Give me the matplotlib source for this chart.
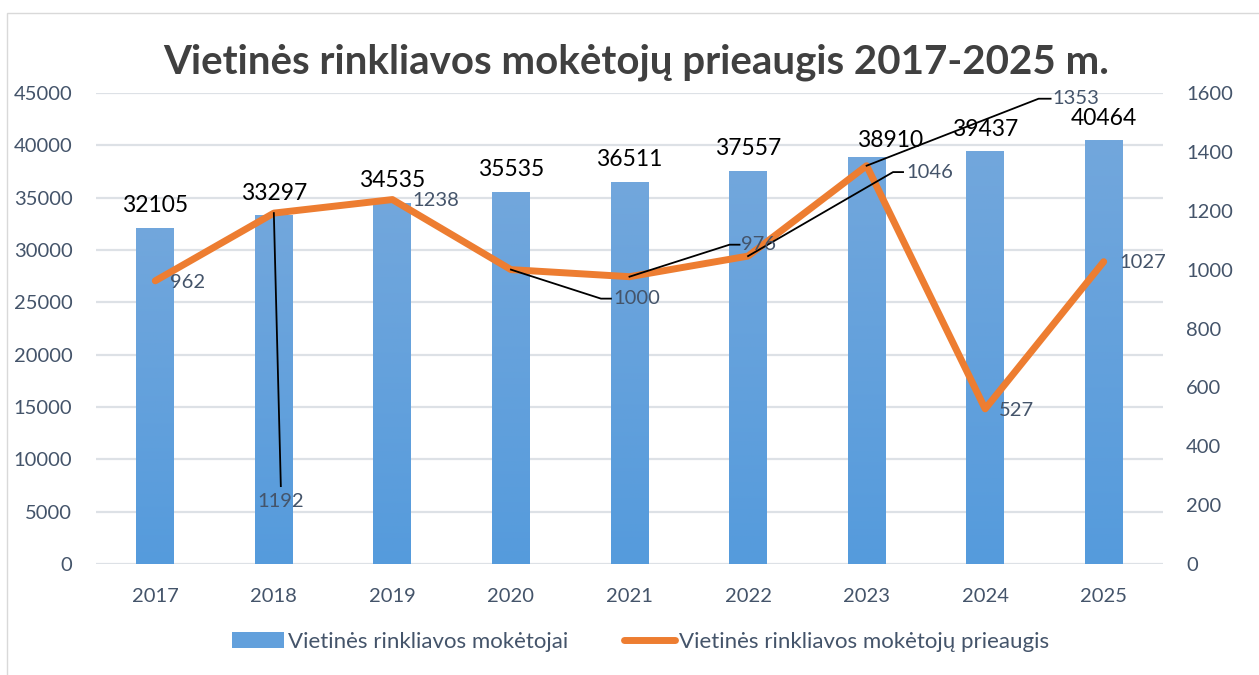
import numpy as np
import matplotlib.pyplot as plt
import matplotlib.transforms as mtransforms
from matplotlib.patches import Rectangle, Patch
from matplotlib.lines import Line2D
from matplotlib.colors import LinearSegmentedColormap

plt.rcParams['font.family'] = ['Lato', 'DejaVu Sans']

# data
years = ['2017', '2018', '2019', '2020', '2021', '2022', '2023', '2024', '2025']
payers = [32105, 33297, 34535, 35535, 36511, 37557, 38910, 39437, 40464]
growth = [962, 1192, 1238, 1000, 976, 1046, 1353, 527, 1027]

title = 'Vietinės rinkliavos mokėtojų prieaugis 2017-2025 m.'
bar_name = 'Vietinės rinkliavos mokėtojai'
line_name = 'Vietinės rinkliavos mokėtojų prieaugis'

tick_col = '#44546a'
grid_col = '#dde1e6'
orange = '#ed7d31'

fig = plt.figure(figsize=(12.59, 6.75), dpi=100)
fig.patches.append(Rectangle((7 / 1259, -0.1), 1.2, 1 - 13 / 675 + 0.1,
                             transform=fig.transFigure, fill=False,
                             edgecolor='#d9d9d9', lw=1))
ax = fig.add_axes([96 / 1259, 1 - 564 / 675, (1163 - 96) / 1259, (564 - 93) / 675])
ax2 = ax.twinx()

x = np.arange(len(years))
bars = ax.bar(x, payers, width=0.32, color='none', edgecolor='none', zorder=2)

# vertical gradient inside each bar
grad = np.linspace(0, 1, 256).reshape(-1, 1)
cmap = LinearSegmentedColormap.from_list('bar', ['#559bdc', '#72a7dc'])
for b in bars:
    im = ax.imshow(grad, cmap=cmap, aspect='auto', origin='lower',
                   extent=[b.get_x(), b.get_x() + b.get_width(), 0, b.get_height()],
                   zorder=2)
    im.set_clip_path(b)

ax.set_xlim(-0.5, len(years) - 0.5)
ax.set_ylim(0, 45000)
ax.set_yticks(np.arange(0, 45001, 5000))
ax.set_xticks(x)
ax.set_xticklabels(years)
ax.grid(axis='y', color=grid_col, lw=1.6)
ax.set_axisbelow(True)
for s in ax.spines.values():
    s.set_visible(False)
for s in ax2.spines.values():
    s.set_visible(False)
ax.tick_params(axis='y', length=0, pad=17, labelsize=14.5, labelcolor=tick_col)
ax.tick_params(axis='x', length=0, pad=17, labelsize=14.5, labelcolor=tick_col)

# bar labels
bar_dx = [0, 0, 0, 0, 0, 0, 17, 0, 0]
bar_dy = [16, 16, 16, 16, 16, 16, 12, 16, 16]
for i, v in enumerate(payers):
    ax.annotate(str(v), (x[i], v), xytext=(bar_dx[i], bar_dy[i]),
                textcoords='offset points', ha='center', va='center',
                fontsize=16.5, color='black', zorder=5)

ax2.plot(x, growth, color=orange, lw=5, solid_capstyle='round',
         solid_joinstyle='round', zorder=3)
ax2.set_ylim(0, 1600)
ax2.set_yticks(np.arange(0, 1601, 200))
ax2.tick_params(axis='y', length=0, pad=16.5, labelsize=14.5, labelcolor=tick_col)

# line labels: offsets in pixels (right, down), optional leader (end offset, horizontal piece)
lab_off = [(15, 2), (7, 288), (20, 1), (102, 29), (112, -32), (158, -84), (186, -67), (14, 2), (16, 1)]
lab_ha = ['left', 'center', 'left', 'left', 'left', 'left', 'left', 'left', 'left']
leaders = [None, (7, 273, 0), None, (90, 29, 10), (100, -32, 10), (145, -84, 10),
           (172, -67, 12), None, None]
px = 72 / fig.dpi
for i, v in enumerate(growth):
    dx, dy = lab_off[i]
    ax2.annotate(str(v), (x[i], v), xytext=(dx * px, -dy * px),
                 textcoords='offset points', ha=lab_ha[i], va='center',
                 fontsize=14.5, color=tick_col, zorder=6)
    if leaders[i] is not None:
        lx, ly, h = leaders[i]
        trans = fig.dpi_scale_trans + mtransforms.ScaledTranslation(x[i], v, ax2.transData)
        pts_x = np.array([0, lx, lx + h]) / fig.dpi
        pts_y = -np.array([0, ly, ly]) / fig.dpi
        ax2.add_line(Line2D(pts_x, pts_y, transform=trans, color='black', lw=1.3, zorder=5))

fig.text(636 / 1259, 1 - 62 / 675, title, ha='center', va='center',
         fontsize=29, fontweight='bold', color='#404040')

handles = [Patch(facecolor='#62a0dc', edgecolor='none'),
           Line2D([0], [0], color=orange, lw=5, solid_capstyle='round')]
fig.legend(handles, [bar_name, line_name], loc='center', bbox_to_anchor=(641 / 1259, 1 - 642 / 675),
           ncol=2, frameon=False, fontsize=16, labelcolor=tick_col,
           handlelength=2.3, handleheight=0.7, handletextpad=0.2, columnspacing=2.5)

fig.savefig('out.png', dpi=100)
